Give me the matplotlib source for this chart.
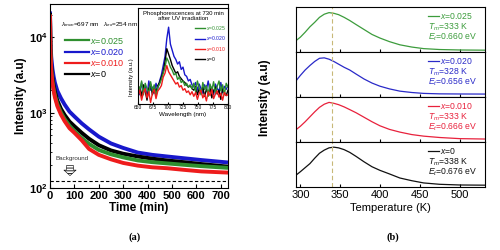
import numpy as np
import matplotlib
matplotlib.use('Agg')
import matplotlib.pyplot as plt
from matplotlib.ticker import LogLocator, NullFormatter, NullLocator

plt.rcParams['font.family'] = ['Liberation Sans', 'DejaVu Sans']
plt.rcParams['mathtext.fontset'] = 'custom'
plt.rcParams['mathtext.rm'] = 'Liberation Sans'
plt.rcParams['mathtext.it'] = 'Liberation Sans:italic'
plt.rcParams['mathtext.bf'] = 'Liberation Sans:bold'
plt.rcParams['hatch.linewidth'] = 0.6

# (a) afterglow decay curves
time_min = [0, 2, 5, 10, 15, 20, 30, 45, 60, 80, 100, 130, 160, 200, 250, 300,
            360, 420, 480, 550, 620, 730]
decay_020 = [22000, 9000, 5500, 3800, 3000, 2500, 1950, 1550, 1280, 1030, 890, 720,
             600, 480, 390, 340, 295, 275, 262, 248, 235, 218]
decay_0 = [21000, 7000, 4200, 2900, 2300, 1900, 1450, 1120, 930, 760, 660, 540,
           450, 370, 315, 285, 262, 245, 232, 220, 208, 192]
decay_025 = [20000, 6000, 3700, 2600, 2050, 1700, 1300, 1000, 820, 670, 570, 460,
             385, 320, 280, 255, 232, 220, 212, 203, 195, 185]
decay_010 = [20000, 6000, 3600, 2500, 1950, 1600, 1220, 940, 770, 620, 540, 430,
             330, 275, 240, 215, 198, 188, 183, 174, 166, 160]
background = 123

# inset: phosphorescence spectra at 730 min
wavelength = np.arange(650, 801, 3)
spec_025 = [0.25, 0.18, 0.30, 0.12, 0.27, 0.20, 0.14, 0.29, 0.17, 0.25, 0.10, 0.22,
            0.26, 0.32, 0.40, 0.48, 0.60, 0.55, 0.48, 0.44, 0.38, 0.40, 0.32, 0.35,
            0.28, 0.30, 0.24, 0.27, 0.22, 0.25, 0.20,
            0.27, 0.16, 0.30, 0.21, 0.12, 0.28, 0.19, 0.24, 0.10, 0.26, 0.18, 0.29,
            0.14, 0.23, 0.30, 0.17, 0.25, 0.12, 0.27, 0.22]
spec_020 = [0.20, 0.12, 0.28, 0.15, 0.24, 0.10, 0.30, 0.18, 0.22, 0.14, 0.27, 0.20,
            0.30, 0.38, 0.50, 0.62, 0.85, 1.00, 0.78, 0.70, 0.62, 0.58, 0.52, 0.55,
            0.45, 0.48, 0.38, 0.36, 0.30, 0.32, 0.25,
            0.22, 0.28, 0.18, 0.26, 0.20, 0.14, 0.25, 0.19, 0.30, 0.16, 0.22, 0.12,
            0.26, 0.20, 0.17, 0.28, 0.15, 0.23, 0.19, 0.24]
spec_010 = [0.10, 0.18, 0.05, 0.15, 0.20, 0.08, 0.16, 0.02, 0.14, 0.19, 0.07, 0.17,
            0.20, 0.24, 0.35, 0.40, 0.50, 0.42, 0.38, 0.34, 0.30, 0.26, 0.28, 0.22,
            0.24, 0.18, 0.20, 0.15, 0.17, 0.12, 0.16,
            0.10, 0.15, 0.06, 0.14, 0.18, 0.08, 0.13, 0.04, 0.16, 0.11, 0.19, 0.07,
            0.13, 0.17, 0.09, 0.14, 0.05, 0.15, 0.11, 0.12]
spec_0 = [0.15, 0.22, 0.10, 0.25, 0.17, 0.05, 0.20, 0.26, 0.12, 0.21, 0.16, 0.24,
          0.28, 0.35, 0.42, 0.55, 0.72, 0.65, 0.58, 0.50, 0.45, 0.40, 0.42, 0.36,
          0.33, 0.30, 0.28, 0.25, 0.22, 0.24, 0.20,
          0.18, 0.23, 0.12, 0.20, 0.15, 0.22, 0.10, 0.19, 0.14, 0.21, 0.08, 0.17,
          0.22, 0.13, 0.18, 0.06, 0.20, 0.15, 0.11, 0.18]

# (b) thermoluminescence glow curves (normalised)
temp_K = [295, 300, 306, 312, 318, 324, 330, 336, 342, 348, 355, 362, 370, 380,
          390, 400, 412, 425, 440, 455, 475, 500, 535]
tl_025 = [0.26, 0.33, 0.44, 0.56, 0.66, 0.77, 0.84, 0.875, 0.86, 0.83, 0.77, 0.70,
          0.61, 0.50, 0.39, 0.31, 0.23, 0.16, 0.11, 0.075, 0.055, 0.045, 0.04]
tl_020 = [0.37, 0.48, 0.60, 0.70, 0.79, 0.86, 0.87, 0.84, 0.79, 0.73, 0.66, 0.60,
          0.51, 0.40, 0.31, 0.24, 0.18, 0.13, 0.10, 0.08, 0.07, 0.067, 0.065]
tl_010 = [0.28, 0.35, 0.45, 0.56, 0.67, 0.77, 0.84, 0.88, 0.86, 0.83, 0.78, 0.72,
          0.65, 0.55, 0.45, 0.36, 0.28, 0.22, 0.165, 0.13, 0.10, 0.075, 0.065]
tl_0 = [0.27, 0.34, 0.43, 0.52, 0.64, 0.75, 0.82, 0.87, 0.885, 0.87, 0.83, 0.77,
        0.68, 0.56, 0.45, 0.37, 0.29, 0.20, 0.14, 0.09, 0.06, 0.045, 0.04]

labels = ['0.025', '0.020', '0.010', '0']
tm_vals = ['333', '328', '333', '338']
et_vals = ['0.660', '0.656', '0.666', '0.676']

col_a = {'0.025': '#2f8f2f', '0.020': '#1818cc', '0.010': '#ee1c1c', '0': '#000000'}
col_b = {'0.025': '#3c9c3c', '0.020': '#2a2ac8', '0.010': '#e8213c', '0': '#111111'}

fig = plt.figure(figsize=(5, 2.5), dpi=100)

# ---------- panel (a)
ax = fig.add_axes([0.1, 0.248, 0.356, 0.738])
decays = {'0.025': decay_025, '0.020': decay_020, '0.010': decay_010, '0': decay_0}
for key in ['0.020', '0', '0.025', '0.010']:
    ax.plot(time_min, decays[key], color=col_a[key], lw=2.8, solid_capstyle='butt')
ax.axhline(background, ls='--', color='k', lw=0.8, dashes=(3, 2))
ax.set_yscale('log')
ax.set_xlim(0, 730)
ax.set_ylim(100, 28000)
ax.set_xticks(range(0, 701, 100))
ax.yaxis.set_minor_locator(LogLocator(base=10, subs=np.arange(2, 10)))
ax.yaxis.set_minor_formatter(NullFormatter())
ax.tick_params(which='both', direction='in', labelsize=8)
ax.tick_params(which='major', length=3, pad=2)
ax.tick_params(which='minor', length=1.5)
for t in ax.get_xticklabels() + ax.get_yticklabels():
    t.set_fontweight('bold')
ax.set_xlabel('Time (min)', fontsize=8.5, fontweight='bold', labelpad=1)
ax.set_ylabel('Intensity (a.u)', fontsize=8.5, fontweight='bold', labelpad=1)

# legend built from the same colours
handles = []
for key in labels:
    h, = ax.plot([], [], color=col_a[key], lw=1.6)
    handles.append(h)
ax.legend(handles, ['$x$=' + k for k in labels], loc='upper left',
          bbox_to_anchor=(0.04, 0.87), frameon=False, fontsize=6.5,
          handlelength=2.6, handletextpad=0.1, labelspacing=0.12,
          labelcolor='linecolor')

ax.text(0.06, 0.885, r'$\lambda_{mon}$=697 nm   $\lambda_{ex}$=254 nm',
        transform=ax.transAxes, fontsize=4.6, va='center')
ax.text(90, 245, 'Background', fontsize=4.5, ha='center', va='center', color='#333333')
ax.annotate('', xy=(82, 134), xytext=(82, 215),
            arrowprops=dict(arrowstyle='simple,head_width=1.1,tail_width=0.65,head_length=0.5',
                            mutation_scale=8, fc='white', ec='black', lw=0.4,
                            hatch='------'))

# inset
axi = fig.add_axes([0.276, 0.584, 0.18, 0.384])
specs = {'0.025': spec_025, '0.020': spec_020, '0.010': spec_010, '0': spec_0}
for key in ['0.020', '0', '0.025', '0.010']:
    axi.plot(wavelength, specs[key], color=col_a[key], lw=1.0)
axi.set_xlim(650, 800)
axi.set_ylim(0, 1.25)
axi.set_xticks(range(650, 801, 25))
axi.yaxis.set_major_locator(NullLocator())
axi.tick_params(direction='in', labelsize=3.5, length=1.5, pad=1)
axi.set_xlabel('Wavelength (nm)', fontsize=4.5, labelpad=1)
axi.set_ylabel('Intensity (a.u.)', fontsize=4.2, labelpad=1)
axi.yaxis.set_label_coords(-0.05, 0.28)
axi.set_title('Phosphorescences at 730 min\nafter UV irradiation', fontsize=4.3,
              y=0.79, linespacing=0.95)
hi = []
for key in labels:
    h, = axi.plot([], [], color=col_a[key], lw=1.0)
    hi.append(h)
axi.legend(hi, ['$x$=' + k for k in labels], loc='upper right',
           bbox_to_anchor=(1.03, 0.88), frameon=False, fontsize=3.6,
           handlelength=2.0, handletextpad=0.2, labelspacing=0.45,
           labelcolor='linecolor')

fig.text(0.27, 0.04, '(a)', fontsize=7.5, fontweight='bold', ha='center',
         family='Liberation Serif')

# ---------- panel (b)
tls = {'0.025': tl_025, '0.020': tl_020, '0.010': tl_010, '0': tl_0}
left, right, bottom, top = 0.592, 0.97, 0.252, 0.972
h = (top - bottom) / 4
axes_b = []
for i, key in enumerate(labels):
    a = fig.add_axes([left, top - (i + 1) * h, right - left, h])
    a.plot(temp_K, tls[key], color=col_b[key], lw=0.9)
    a.axvline(340, color='#c8b878', ls='--', lw=0.8, dashes=(4, 2.5))
    a.set_xlim(294.5, 532)
    a.set_ylim(0, 1.0)
    a.set_xticks(range(300, 501, 50))
    a.yaxis.set_major_locator(NullLocator())
    a.tick_params(direction='in', length=2, labelsize=8, pad=2)
    if i < 3:
        a.tick_params(labelbottom=False)
    tc = col_b[key]
    a.plot([0.70, 0.755], [0.79, 0.79], transform=a.transAxes, color=tc, lw=0.9)
    a.text(0.76, 0.79, '$x$=' + key, transform=a.transAxes, color=tc,
           fontsize=6.2, va='center')
    a.text(0.70, 0.56, '$T_m$=' + tm_vals[i] + ' K', transform=a.transAxes,
           color=tc, fontsize=6.2, va='center')
    a.text(0.70, 0.33, '$E_t$=' + et_vals[i] + ' eV', transform=a.transAxes,
           color=tc, fontsize=6.2, va='center')
    axes_b.append(a)
axes_b[-1].set_xlabel('Temperature (K)', fontsize=8, labelpad=2)
fig.text(0.53, 0.61, 'Intensity (a.u)', rotation=90, fontsize=8.5,
         fontweight='bold', ha='center', va='center')
fig.text(0.786, 0.04, '(b)', fontsize=7.5, fontweight='bold', ha='center',
         family='Liberation Serif')

fig.savefig('out.png', dpi=100)
